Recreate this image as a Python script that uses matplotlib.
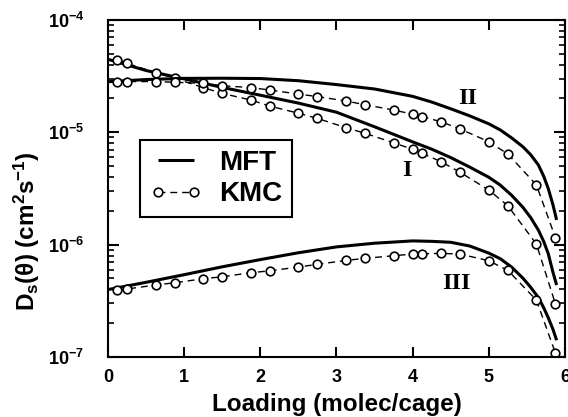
import math
import matplotlib
matplotlib.use("Agg")
import matplotlib.pyplot as plt
from matplotlib.ticker import LogLocator, FixedLocator, FuncFormatter

plt.rcParams['font.family'] = ['Liberation Sans', 'DejaVu Sans']
plt.rcParams['font.weight'] = 'bold'
plt.rcParams['mathtext.fontset'] = 'custom'
plt.rcParams['mathtext.rm'] = 'Liberation Sans:bold'
plt.rcParams['mathtext.bf'] = 'Liberation Sans:bold'
plt.rcParams['mathtext.it'] = 'Liberation Sans:bold'

# KMC data
kmc_loading = [0.125, 0.25, 0.625, 0.875, 1.25, 1.5, 1.875, 2.125, 2.5, 2.75, 3.125,
               3.375, 3.75, 4.0, 4.125, 4.375, 4.625, 5.0, 5.25, 5.625, 5.875]
kmc_I = [4.41e-5, 4.11e-5, 3.40e-5, 3.03e-5, 2.50e-5, 2.22e-5, 1.94e-5, 1.71e-5, 1.48e-5,
         1.33e-5, 1.10e-5, 9.8e-6, 8.07e-6, 7.06e-6, 6.50e-6, 5.47e-6, 4.40e-6, 3.06e-6,
         2.22e-6, 1.01e-6, 2.96e-7]
kmc_II = [2.83e-5, 2.83e-5, 2.83e-5, 2.79e-5, 2.73e-5, 2.60e-5, 2.50e-5, 2.38e-5, 2.19e-5,
          2.08e-5, 1.90e-5, 1.76e-5, 1.58e-5, 1.45e-5, 1.38e-5, 1.24e-5, 1.07e-5, 8.24e-6,
          6.41e-6, 3.40e-6, 1.15e-6]
kmc_III = [3.94e-7, 4.03e-7, 4.37e-7, 4.58e-7, 4.97e-7, 5.18e-7, 5.62e-7, 5.85e-7, 6.32e-7,
           6.68e-7, 7.24e-7, 7.55e-7, 7.97e-7, 8.24e-7, 8.30e-7, 8.36e-7, 8.24e-7, 7.19e-7,
           5.90e-7, 3.21e-7, 1.08e-7]

# MFT data
mft_loading = [0.0, 0.5, 1.0, 1.5, 2.0, 2.5, 3.0, 3.5, 4.0, 4.25, 4.5, 4.75, 5.0, 5.15,
               5.3, 5.45, 5.55, 5.65, 5.72, 5.78, 5.84, 5.89]
mft_I = [4.47e-5, 3.55e-5, 2.99e-5, 2.51e-5, 2.14e-5, 1.82e-5, 1.51e-5, 1.12e-5,
         8.22e-6, 7.08e-6, 5.96e-6, 4.90e-6, 3.98e-6, 3.39e-6, 2.75e-6, 2.14e-6,
         1.74e-6, 1.35e-6, 1.07e-6, 8.32e-7, 5.75e-7, 4.37e-7]
mft_II = [2.82e-5, 2.95e-5, 3.02e-5, 3.03e-5, 3.01e-5, 2.88e-5, 2.66e-5, 2.43e-5,
          2.09e-5, 1.86e-5, 1.62e-5, 1.40e-5, 1.19e-5, 1.05e-5, 8.91e-6, 7.41e-6,
          6.31e-6, 5.13e-6, 4.07e-6, 3.16e-6, 2.29e-6, 1.66e-6]
mft_III = [3.98e-7, 4.62e-7, 5.40e-7, 6.35e-7, 7.36e-7, 8.47e-7, 9.55e-7, 1.03e-6,
           1.08e-6, 1.07e-6, 1.05e-6, 9.72e-7, 8.41e-7, 7.50e-7, 6.31e-7, 5.01e-7,
           4.17e-7, 3.39e-7, 2.75e-7, 2.24e-7, 1.78e-7, 1.41e-7]

curve_labels = ['I', 'II', 'III']
xticks = [0, 1, 2, 3, 4, 5, 6]

fig = plt.figure(figsize=(5.68, 4.17), dpi=100)
ax = fig.add_axes([0.190, 0.1439, 0.8047, 0.8082])

mft_style = dict(color='black', lw=2.2, solid_capstyle='butt', solid_joinstyle='round')
kmc_style = dict(color='black', lw=1.0, linestyle=(0, (5, 3.5)), marker='o', ms=6.2,
                 mfc='white', mec='black', mew=1.2)

for i, (m, k) in enumerate([(mft_I, kmc_I), (mft_II, kmc_II), (mft_III, kmc_III)]):
    ax.plot(mft_loading, m, label='MFT' if i == 0 else None, **mft_style)
    ax.plot(kmc_loading, k, label='KMC' if i == 0 else None, **kmc_style)

ax.set_yscale('log')
ax.set_xlim(0, 6)
ax.set_ylim(1e-7, 1e-4)
ax.xaxis.set_major_locator(FixedLocator(xticks))
ax.yaxis.set_major_locator(LogLocator(base=10, numticks=10))
ax.yaxis.set_minor_locator(LogLocator(base=10, subs=range(2, 10), numticks=10))
ax.yaxis.set_minor_formatter(FuncFormatter(lambda v, p: ''))


def yfmt(v, p):
    e = int(round(math.log10(v)))
    return r'$\mathbf{10^{%d}}$' % e


ax.yaxis.set_major_formatter(FuncFormatter(yfmt))
ax.xaxis.set_major_formatter(FuncFormatter(lambda v, p: '%d' % v))

ax.tick_params(axis='x', which='major', direction='in', top=True, bottom=True,
               length=7, width=1.5, pad=9, labelsize=13)
ax.tick_params(axis='y', which='major', direction='in', left=True, right=True,
               length=8, width=1.5, pad=17, labelsize=13)
ax.tick_params(axis='y', which='minor', direction='in', left=True, right=True,
               length=4.5, width=1.2)
for lab in ax.get_xticklabels() + ax.get_yticklabels():
    lab.set_fontweight('bold')
for s in ax.spines.values():
    s.set_linewidth(1.5)

ax.set_xlabel('Loading (molec/cage)', fontsize=17.5, fontweight='bold')
ax.xaxis.set_label_coords(0.5, -0.107)
ax.set_ylabel(r'D$_\mathbf{s}$(θ) (cm$^\mathbf{2}$s$^\mathbf{-1}$)', fontsize=17.5,
              fontweight='bold')
ax.yaxis.set_label_coords(-0.145, 0.374)

label_pos = [(3.93, 4.6e-6), (4.72, 1.98e-5), (4.57, 4.55e-7)]
for t, (x, y) in zip(curve_labels, label_pos):
    ax.text(x, y, t, family='Liberation Serif', fontweight='bold', fontsize=17.5,
            ha='center', va='center')

leg = ax.legend(loc='upper left', bbox_to_anchor=(0.070, 0.644), borderaxespad=0,
                numpoints=2, handlelength=1.9, handletextpad=0.6,
                labelspacing=0.2, borderpad=0.35, fancybox=False, framealpha=1,
                edgecolor='black', prop={'weight': 'bold', 'size': 20})
leg.get_frame().set_linewidth(1.5)

fig.savefig('out.png', dpi=100)
